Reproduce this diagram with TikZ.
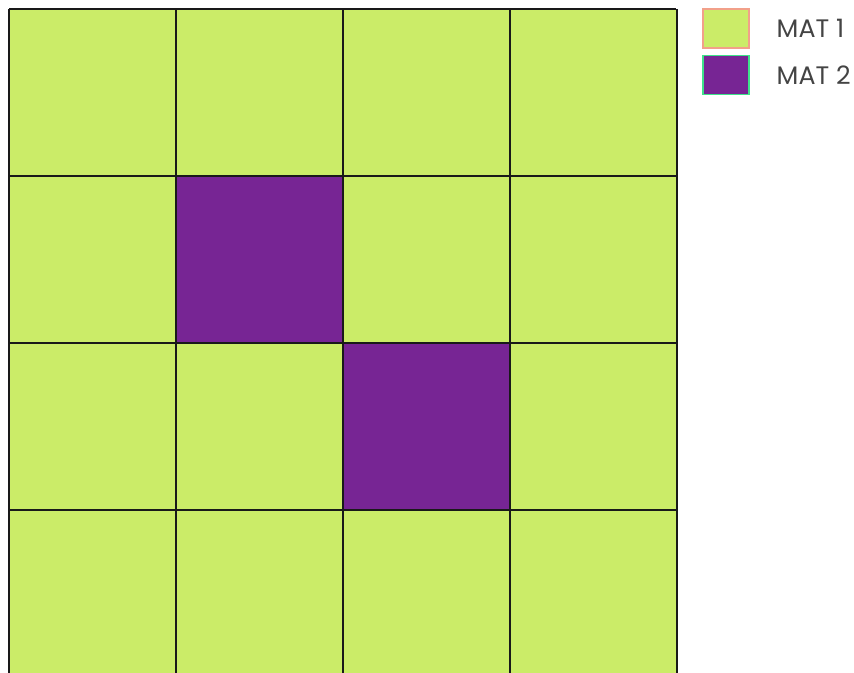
\documentclass[tikz,border=0pt]{standalone}
\usepackage{fontspec}
\setmainfont{Poppins}
\usetikzlibrary{positioning}

\definecolor{matone}{HTML}{CBEC68}
\definecolor{mattwo}{HTML}{772594}
\definecolor{matoneedge}{HTML}{F2A08A}
\definecolor{mattwoedge}{HTML}{3EE28A}
\definecolor{labelgray}{HTML}{444444}

\tikzset{
    cellone/.style={fill=matone},
    celltwo/.style={fill=mattwo},
    gridline/.style={black!90, line width=0.42pt},
    keybox/.style={minimum width=0.46cm, minimum height=0.39cm, inner sep=0pt, line width=0.5pt},
    keylabel/.style={text=labelgray, font=\fontsize{7.2}{9}\selectfont, inner sep=0pt, anchor=west}
}

\begin{document}
\begin{tikzpicture}[x=0.01cm, y=-0.01cm]
    \useasboundingbox (0,0) rectangle (854,673);

    % 4x4 material map, bottom row cut by the page edge
    \begin{scope}
        \clip (0,0) rectangle (854,673);
        \foreach \i in {0,...,3} {
            \foreach \j in {0,...,3} {
                \fill[cellone] ({9+167*\i},{9+167*\j}) rectangle ++(167,167);
            }
        }
        \fill[celltwo] (176,176) rectangle ++(167,167);
        \fill[celltwo] (343,343) rectangle ++(167,167);

        \foreach \k in {0,...,4} {
            \draw[gridline] ({9+167*\k},9) -- ({9+167*\k},680);
        }
        \foreach \k in {0,...,3} {
            \draw[gridline] (9,{9+167*\k}) -- (676,{9+167*\k});
        }
    \end{scope}

    % Legend
    \node[keybox, cellone, draw=matoneedge] (keyone) at (726,28.5) {};
    \node[keybox, celltwo, draw=mattwoedge] (keytwo) at (726,75) {};
    \node[keylabel] (labone) at (776,28.5) {MAT 1};
    \node[keylabel] (labtwo) at (776,75) {MAT 2};
\end{tikzpicture}
\end{document}
